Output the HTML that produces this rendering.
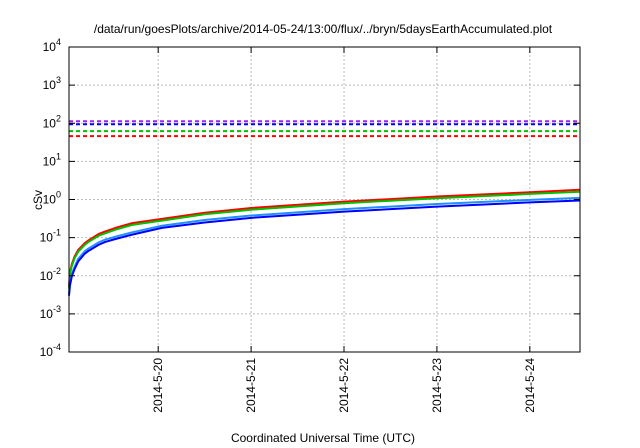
<!DOCTYPE html>
<html><head><meta charset="utf-8"><style>
body{margin:0;background:#fff}
svg{display:block;font-family:"Liberation Sans",sans-serif}
</style></head><body>
<svg id="chart" width="640" height="448">
<text x="323" y="33" font-size="12" text-anchor="middle">/data/run/goesPlots/archive/2014-05-24/13:00/flux/../bryn/5daysEarthAccumulated.plot</text>
<text x="323" y="442" font-size="12" text-anchor="middle">Coordinated Universal Time (UTC)</text>
<text x="0" y="0" font-size="12" text-anchor="middle" transform="translate(42,200) rotate(-90)">cSv</text>
<g id="grid"></g><g id="series"></g><g id="axes"></g>
</svg>
<script>
const xTickLabels=["2014-5-20","2014-5-21","2014-5-22","2014-5-23","2014-5-24"];
const xTickDays=[1,2,3,4,5];
const yTickExps=[-4,-3,-2,-1,0,1,2,3,4];
const times=[0.04,0.05,0.07,0.1,0.14,0.21,0.25,0.36,0.43,0.54,0.72,1.04,1.5,2,3,4,5,5.54];
const redVals=[0.005,0.012,0.02,0.032,0.048,0.072,0.085,0.125,0.145,0.18,0.24,0.31,0.45,0.6,0.88,1.2,1.55,1.8];
const greenVals=[0.0045,0.011,0.018,0.029,0.043,0.065,0.077,0.112,0.13,0.162,0.216,0.28,0.41,0.54,0.8,1.08,1.4,1.6];
const lightBlueVals=[0.0035,0.0063,0.011,0.017,0.028,0.044,0.052,0.075,0.089,0.106,0.138,0.205,0.29,0.38,0.56,0.76,0.98,1.1];
const blueVals=[0.003,0.0055,0.0096,0.015,0.024,0.038,0.045,0.065,0.077,0.092,0.12,0.18,0.25,0.33,0.48,0.65,0.84,0.94];
const thresholds=[113,94,62,46];
const thresholdColors=["#a020f0","#0000ff","#00c000","#ff0000"];
const L=69,R=580,T=47,B=352,D0=0.04,D1=5.54;
const xs=d=>L+(d-D0)/(D1-D0)*(R-L);
const ys=v=>B-(Math.log10(v)+4)/8*(B-T);
const NS="http://www.w3.org/2000/svg";
function mk(tag,at,par){const e=document.createElementNS(NS,tag);for(const k in at)e.setAttribute(k,at[k]);document.getElementById(par).appendChild(e);return e;}
xTickDays.forEach((d,i)=>{const x=xs(d);
 const g=mk("line",{x1:x,x2:x,y1:T,y2:B,stroke:"#bbb","stroke-dasharray":"2,2","stroke-width":1},"grid");
 
 
 const t1=mk("line",{x1:x,x2:x,y1:B,y2:B-6,stroke:"#000"},"axes");
 
 
 const t2=mk("line",{x1:x,x2:x,y1:T,y2:T+6,stroke:"#000"},"axes");
 
 
 const tx=mk("text",{x:0,y:0,"font-size":12,"text-anchor":"end",transform:`translate(${x+4},358) rotate(-90)`},"axes");
 tx.textContent=xTickLabels[i];
 
 
});
yTickExps.forEach(e=>{const y=ys(Math.pow(10,e));
 if(e>-4&&e<4){const g=mk("line",{x1:L,x2:R,y1:y,y2:y,stroke:"#bbb","stroke-dasharray":"2,2"},"grid");
 
 }
 const t1=mk("line",{x1:L,x2:L+6,y1:y,y2:y,stroke:"#000"},"axes");
 
 
 const t2=mk("line",{x1:R,x2:R-6,y1:y,y2:y,stroke:"#000"},"axes");
 
 
 const tx=mk("text",{x:L-8,y:y+4,"font-size":12,"text-anchor":"end"},"axes");
 tx.innerHTML=`10<tspan dy="-6" font-size="9">${e}</tspan>`;
 
 
});
thresholds.forEach((v,i)=>{
 const l=mk("line",{x1:L,x2:R,y1:ys(v),y2:ys(v),stroke:thresholdColors[i],"stroke-width":2,"stroke-dasharray":"4,3"},"series");
 
 
});
[[redVals,"#ff0000"],[greenVals,"#00c000"],[lightBlueVals,"#1e90ff"],[blueVals,"#0000ff"]].forEach(([vals,c])=>{
 const p=mk("polyline",{points:times.map((t,i)=>xs(t)+","+ys(vals[i])).join(" "),fill:"none",stroke:c,"stroke-width":2,"stroke-linejoin":"round"},"series");
 
 
});
const fr=mk("rect",{x:L,y:T,width:R-L,height:B-T,fill:"none",stroke:"#000","stroke-width":1},"axes");


</script>
</body></html>
